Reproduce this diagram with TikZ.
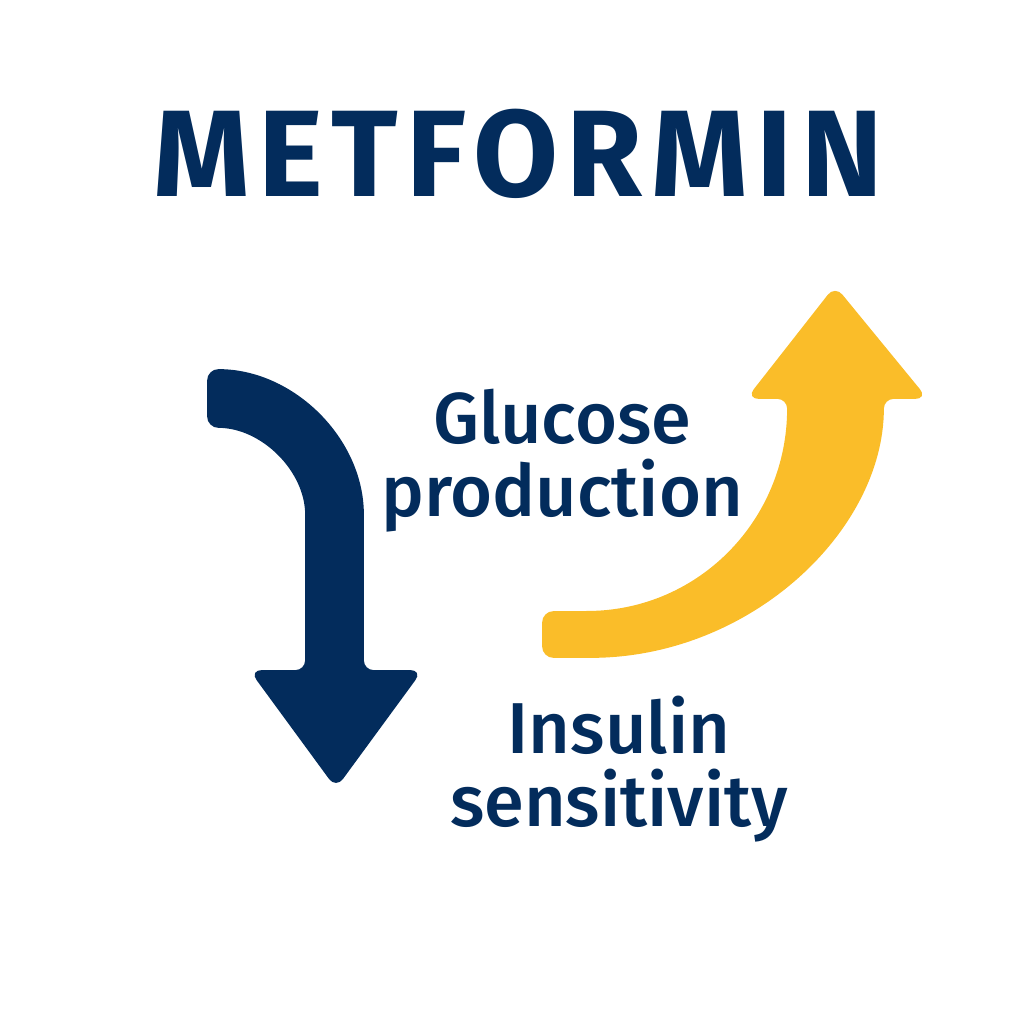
\documentclass[tikz,border=0pt]{standalone}
\usepackage{fontspec}
\setmainfont{Fira Sans}
\newfontfamily\medfont{Fira Sans Medium}
\usetikzlibrary{positioning}

\begin{document}
\begin{tikzpicture}[
  x=0.01cm,y=0.01cm,
  lbl/.style={text=cnavy,align=center,anchor=base,inner sep=0pt,
              font=\medfont\fontsize{20.5}{21}\selectfont},
  arw/.style={fill=#1,draw=#1,line width=0.5pt,rounded corners=3pt},
]
  \definecolor{cnavy}{HTML}{032C5C}
  \definecolor{cyellow}{HTML}{FABD29}
  \useasboundingbox (0,0) rectangle (1024,1024);

  % title
  \node[text=cnavy,anchor=base,inner sep=0pt,
        font=\fontsize{35}{35}\bfseries\addfontfeature{LetterSpace=7}] (title) at (518,827) {METFORMIN};

  % down arrow (navy)
  \draw[arw=cnavy] (208,654) arc[start angle=90,end angle=0,radius=155]
    -- (363,353) -- (421,353) -- (336,237) -- (251,353) -- (306,353)
    -- (306,499) arc[start angle=0,end angle=90,radius=98] -- cycle;

  % up arrow (yellow)
  \draw[arw=cyellow] (543,412) -- (580,412) .. controls (700,414) and (788,504) .. (788,626)
    -- (748,626) -- (835,737) -- (926,626) -- (883,626)
    .. controls (883,494) and (750,367) .. (580,367) -- (543,367) -- cycle;

  % labels
  \node[lbl] (glucose) at (562,507) {Glucose\\production};
  \node[lbl] (insulin) at (619,197) {Insulin\\sensitivity};
\end{tikzpicture}
\end{document}
